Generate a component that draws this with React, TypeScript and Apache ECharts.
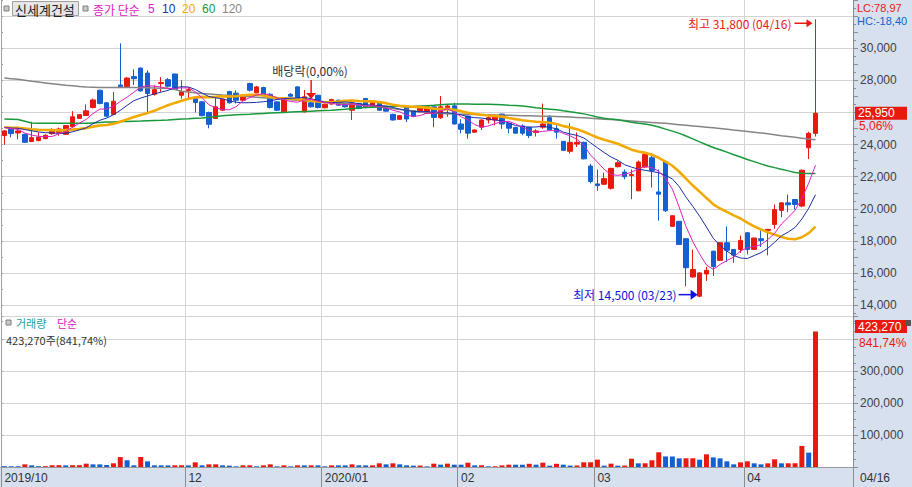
import React, { useEffect, useRef } from 'react';
import * as echarts from 'echarts';

// ---- trading sessions (2019/10/24 .. 2020/04/16) ----
const monthDays: [string, number[]][] = [
  ['2019/10', [24, 25, 28, 29, 30, 31]],
  ['2019/11', [1, 4, 5, 6, 7, 8, 11, 12, 13, 14, 15, 18, 19, 20, 21, 22, 25, 26, 27, 28, 29]],
  ['2019/12', [2, 3, 4, 5, 6, 9, 10, 11, 12, 13, 16, 17, 18, 19, 20, 23, 24, 26, 27, 30]],
  ['2020/01', [2, 3, 6, 7, 8, 9, 10, 13, 14, 15, 16, 17, 20, 21, 22, 23, 28, 29, 30, 31]],
  ['2020/02', [3, 4, 5, 6, 7, 10, 11, 12, 13, 14, 17, 18, 19, 20, 21, 24, 25, 26, 27, 28]],
  ['2020/03', [2, 3, 4, 5, 6, 9, 10, 11, 12, 13, 16, 17, 18, 19, 20, 23, 24, 25, 26, 27, 30, 31]],
  ['2020/04', [1, 2, 3, 6, 7, 8, 9, 10, 13, 14, 16]],
];
const axisMonths = ['2019/10', '2019/12', '2020/01', '2020/02', '2020/03', '2020/04'];
const monthLabels = ['2019/10', '12', '2020/01', '02', '03', '04'];
const emptySlots = ['e1', 'e2', 'e3', 'e4', 'e5'];

// ---- OHLC ----
const opens = [
  24560, 24970, 24720, 24640, 24190, 24250, 24370, 24680, 24760, 24640,
  25110, 25630, 25810, 26310, 27380, 26600, 25880, 27710, 27590, 28230,
  28760, 28450, 27130, 27800, 28040, 28390, 27070, 27360, 26870, 26660,
  26000, 25630, 26140, 27300, 27200, 26760, 27800, 27220, 27550, 27130,
  26660, 26040, 27130, 27590, 26040, 26600, 27070, 26290, 26520, 26760,
  26500, 26140, 26560, 26870, 26310, 26600, 26250, 25880, 25570, 26350,
  26100, 26040, 25940, 26350, 25670, 26300, 26410, 25280, 25775, 24770,
  25080, 25530, 25530, 25900, 25320, 25060, 25160, 25080, 24750, 25080,
  25670, 24980, 24200, 23580, 24030, 24140, 22660, 21550, 21530, 21280,
  22620, 22290, 22080, 21120, 22600, 23180, 21050, 22930, 18910, 19220,
  18140, 15760, 14560, 15940, 17360, 16790, 17890, 17470, 17470, 18510,
  17470, 18140, 18660, 19030, 19900, 20370, 20580, 20170, 23800, 24700,
];
const closes = [
  24850, 24680, 24850, 24140, 24430, 24450, 24580, 24930, 24970, 25180,
  25730, 25860, 26100, 26780, 26560, 25770, 26700, 27600, 28140, 28100,
  27340, 27180, 27420, 27860, 27630, 27440, 27300, 27420, 26620, 25800,
  25260, 26350, 26820, 26600, 26760, 27070, 27380, 27590, 27070, 26310,
  26140, 26870, 27010, 26870, 26970, 26350, 26310, 26500, 26800, 26450,
  26350, 26560, 26250, 26310, 26620, 26140, 26080, 25530, 25800, 25590,
  25750, 26350, 26350, 25690, 26350, 26400, 25280, 24950, 24710, 24910,
  25530, 25670, 25730, 25280, 25020, 24710, 24710, 24560, 24850, 25280,
  24910, 24770, 23640, 24140, 24140, 23110, 21700, 21450, 21880, 22520,
  22870, 22000, 22140, 22910, 23380, 22390, 20910, 19880, 19570, 17780,
  16330, 16220, 16010, 16170, 16400, 17890, 17420, 17120, 18030, 17470,
  18180, 18030, 18720, 19960, 20370, 20250, 20270, 22400, 24700, 25950,
];
const lows = [
  23980, 24450, 24330, 24100, 24150, 24200, 24330, 24600, 24550, 24600,
  25050, 25600, 25800, 26250, 26500, 25700, 25840, 27550, 27550, 27700,
  27300, 25980, 27050, 27280, 27550, 27400, 26860, 26800, 26000, 25750,
  25010, 25600, 26100, 26550, 26560, 26700, 27300, 27180, 27000, 26250,
  26100, 26000, 26950, 26800, 26000, 26300, 26250, 26250, 26480, 26400,
  26300, 25530, 26200, 26250, 26280, 26100, 26050, 25500, 25540, 25400,
  25700, 26000, 25900, 25080, 25600, 25730, 25250, 24700, 24360, 24740,
  24900, 25310, 25200, 24980, 24710, 24680, 24580, 24400, 24500, 24980,
  24880, 24360, 23600, 23440, 23850, 23080, 21580, 21120, 21500, 21200,
  22580, 21840, 20600, 21100, 22560, 21320, 19260, 19800, 18880, 17750,
  15180, 15700, 14500, 15500, 15820, 16760, 16690, 16640, 17250, 17160,
  17440, 17620, 17100, 18760, 19480, 19790, 19960, 20100, 23100, 24500,
];
const highs = [
  24900, 25000, 25110, 24680, 25420, 24760, 24640, 25010, 25050, 25200,
  26080, 25900, 26500, 26860, 27420, 26650, 27280, 30300, 28200, 28680,
  28800, 28620, 27690, 28200, 28140, 28420, 28000, 27580, 26900, 26700,
  26050, 26960, 26860, 27350, 27380, 27100, 27850, 27650, 27600, 27200,
  26700, 26900, 27200, 27650, 27400, 26650, 27100, 26550, 26850, 26800,
  26550, 26600, 26600, 26900, 26650, 26650, 26300, 25920, 25830, 26400,
  26150, 26400, 26400, 26400, 27025, 26450, 26600, 25570, 25800, 24950,
  25560, 25900, 25900, 25920, 25350, 25100, 25260, 25100, 24950, 26550,
  25830, 25230, 24220, 25320, 24750, 24180, 22800, 22450, 22250, 22550,
  23000, 22450, 22450, 23010, 23550, 23480, 22450, 22980, 19600, 19250,
  18180, 17460, 16050, 16380, 17400, 17920, 18910, 17500, 18340, 18550,
  18210, 18650, 18740, 20270, 20400, 20890, 20600, 22450, 24800, 31800,
];

// ---- volume (shares) ----
const volumes = [
  2600, 2300, 2100, 8300, 5200, 2500, 2700, 5500, 5600, 5200,
  5500, 5600, 10400, 8300, 8200, 6200, 11500, 31000, 21000, 5200,
  31300, 17700, 5200, 5100, 5000, 5300, 5400, 5000, 14600, 5200,
  8300, 8400, 5200, 4200, 2100, 5200, 5300, 2100, 5200, 8300,
  2100, 5200, 2100, 5200, 5100, 5200, 5100, 2100, 5200, 5100,
  5000, 8300, 5200, 5100, 5200, 11500, 8300, 11500, 8300, 5200,
  4200, 4500, 2000, 10400, 7300, 10500, 7300, 7200, 13500, 5200,
  5400, 2000, 2300, 5000, 7300, 7200, 7100, 10000, 7300, 13500,
  4200, 10000, 7300, 4500, 4700, 14600, 14800, 23000, 4200, 10400,
  4200, 4500, 26000, 11500, 11700, 21000, 46000, 33000, 32800, 27000,
  27200, 27300, 23000, 39600, 30000, 27000, 17700, 8300, 14600, 17700,
  11500, 8300, 11500, 24000, 11500, 11600, 11700, 66000, 44946, 423270,
];
const priorVolume = 3000;

// estimated closes of the 19 sessions before 2019/10/24 (warm-up of MA5/10/20)
const priorCloses = [
  25200, 24900, 25000, 25300, 25100, 24950, 25150, 25200, 24900, 25050,
  25100, 25000, 24950, 25150, 25200, 25000, 25100, 25300, 25050,
];
// MA60 as drawn before enough in-window sessions exist
const ma60Head = [
  25590, 25580, 25560, 25450, 25340, 25330, 25320, 25320, 25320, 25320,
  25320, 25320, 25320, 25350, 25380, 25400, 25410, 25430, 25440, 25450,
  25460, 25480, 25500, 25510, 25530, 25560, 25590, 25610, 25640, 25660,
  25700, 25740, 25790, 25830, 25850, 25870, 25890, 25920, 25940, 25960,
  25980, 26000, 26020, 26040, 26060, 26080, 26100, 26120, 26140, 26170,
  26200, 26240, 26280, 26310, 26330, 26340, 26360, 26380, 26390,
];
// MA120 as drawn
const ma120 = [
  28140, 28100, 28060, 28000, 27940, 27890, 27840, 27790, 27740, 27690,
  27660, 27620, 27590, 27570, 27550, 27550, 27550, 27550, 27550, 27550,
  27540, 27530, 27520, 27510, 27500, 27420, 27320, 27270, 27220, 27180,
  27150, 27120, 27090, 27070, 27030, 27000, 26970, 26940, 26910, 26880,
  26850, 26820, 26790, 26760, 26730, 26700, 26670, 26640, 26610, 26580,
  26550, 26510, 26470, 26430, 26390, 26340, 26290, 26240, 26190, 26140,
  26090, 26040, 25990, 25960, 25940, 25920, 25900, 25890, 25880, 25870,
  25860, 25850, 25840, 25830, 25820, 25810, 25800, 25790, 25780, 25770,
  25760, 25750, 25730, 25710, 25690, 25670, 25640, 25610, 25580, 25560,
  25530, 25500, 25470, 25440, 25410, 25380, 25350, 25320, 25280, 25240,
  25200, 25160, 25120, 25080, 25040, 25000, 24950, 24900, 24860, 24820,
  24770, 24720, 24670, 24610, 24550, 24500, 24450, 24400, 24350, 24300,
];

const exDividendDate = '2019/12/27';
const exDividendText = '배당락(0,00%)';
const lcText = 'LC:78,97';
const hcText = 'HC:-18,40';
const volRatioText = '841,74%';
const priceLabelValues = [14000, 16000, 18000, 20000, 22000, 24000, 26000, 28000, 30000];
const volumeLabelValues = [100000, 200000, 300000];

const RED = '#e8190e';
const BLUE = '#1560d0';
const PANEL = '#d6e0ef';
const KR = "'Noto Sans CJK KR', sans-serif";
const NUM = "'Liberation Sans', Arial, sans-serif";

const categories = monthDays.flatMap(([m, ds]) => ds.map((d) => `${m}/${String(d).padStart(2, '0')}`));
const axisCats = [...categories, ...emptySlots];
const monthStartIdx = axisMonths.map((m) => categories.findIndex((c) => c.startsWith(m)));
const labelByCat = new Map<string, string>(monthStartIdx.map((idx, k) => [categories[idx], monthLabels[k]]));
const tickIdx = new Set<number>(monthStartIdx);
const splitIdx = new Set<number>(monthStartIdx.slice(1));
const lastIdx = closes.length - 1;

const fmt = (v: number) => v.toLocaleString('en-US');

function sma(n: number): number[] {
  const all = [...priorCloses, ...closes];
  return closes.map((_, i) => {
    const end = i + priorCloses.length;
    let s = 0;
    for (let k = end - n + 1; k <= end; k++) s += all[k];
    return Math.round(s / n);
  });
}
function ma60Line(): number[] {
  return closes.map((_, i) => {
    if (i < ma60Head.length) return ma60Head[i];
    let s = 0;
    for (let k = i - 59; k <= i; k++) s += closes[k];
    return Math.round(s / 60);
  });
}

function buildOption(): any {
  const candle = opens.map((o, i) => [o, closes[i], lows[i], highs[i]]);
  const volData = volumes.map((v, i) => {
    const prev = i === 0 ? priorVolume : volumes[i - 1];
    return { value: v, itemStyle: { color: v >= prev ? RED : BLUE } };
  });
  const line = (data: number[], color: string, width: number) => ({
    type: 'line', xAxisIndex: 0, yAxisIndex: 0, data, symbol: 'none', silent: true, z: 3,
    lineStyle: { color, width }, emphasis: { disabled: true },
  });
  const gridLine = '#d4d4d4';
  const axisGray = '#8c8c8c';
  return {
    animation: false,
    backgroundColor: '#ffffff',
    grid: [
      { left: 1, right: 59, top: -3.75, height: 325, show: false },
      { left: 1, right: 59, top: 316, height: 151, show: false },
    ],
    xAxis: [
      {
        type: 'category', gridIndex: 0, data: axisCats, boundaryGap: true,
        axisLine: { show: false }, axisTick: { show: false }, axisLabel: { show: false },
        splitLine: { show: true, interval: (i: number) => splitIdx.has(i), lineStyle: { color: gridLine } },
      },
      {
        type: 'category', gridIndex: 1, data: axisCats, boundaryGap: true, position: 'bottom',
        axisLine: { show: true, lineStyle: { color: axisGray } },
        axisTick: { show: true, interval: (i: number) => tickIdx.has(i), length: 20, lineStyle: { color: axisGray } },
        axisLabel: {
          show: true, interval: (i: number) => tickIdx.has(i),
          formatter: (v: string) => labelByCat.get(v) ?? '',
          align: 'left', color: '#333333', fontFamily: NUM, fontSize: 12, margin: 5,
        },
        splitLine: { show: true, interval: (i: number) => splitIdx.has(i), lineStyle: { color: gridLine } },
      },
      {
        type: 'category', gridIndex: 1, data: axisCats, position: 'top',
        axisLine: { show: true, lineStyle: { color: '#9a9a9a' } },
        axisTick: { show: false }, axisLabel: { show: false }, splitLine: { show: false },
      },
    ],
    yAxis: [
      {
        type: 'value', gridIndex: 0, position: 'right', min: 13000, max: 33000, interval: 1000,
        axisLine: { show: true, lineStyle: { color: axisGray } },
        axisTick: { show: true, length: 5, lineStyle: { color: axisGray } },
        minorTick: { show: true, splitNumber: 2, length: 3, lineStyle: { color: axisGray } },
        axisLabel: {
          // a label hidden behind the last-price marker is not drawn
          formatter: (v: number) =>
            priceLabelValues.includes(v) && Math.abs(v - closes[lastIdx]) > 500 ? fmt(v) : '',
          color: '#404040', fontFamily: NUM, fontSize: 12, margin: 7,
        },
        splitLine: { show: true, lineStyle: { color: ['rgba(0,0,0,0)', gridLine] } },
      },
      {
        type: 'value', gridIndex: 0, position: 'left', min: 13000, max: 33000, interval: 1000,
        axisLine: { show: true, lineStyle: { color: '#a0a0a0' } },
        axisTick: { show: true, inside: true, length: 2, lineStyle: { color: '#a0a0a0' } },
        minorTick: { show: true, splitNumber: 2, length: 1, lineStyle: { color: '#a0a0a0' } },
        axisLabel: { show: false }, splitLine: { show: false },
      },
      {
        type: 'value', gridIndex: 1, position: 'right', min: 0, max: 471875, interval: 100000,
        axisLine: { show: true, lineStyle: { color: axisGray } },
        axisTick: { show: true, length: 5, lineStyle: { color: axisGray } },
        minorTick: { show: true, splitNumber: 4, length: 3, lineStyle: { color: axisGray } },
        axisLabel: {
          formatter: (v: number) => (volumeLabelValues.includes(v) ? fmt(v) : ''),
          color: '#404040', fontFamily: NUM, fontSize: 12, margin: 7,
        },
        splitLine: { show: true, lineStyle: { color: gridLine } },
      },
      {
        type: 'value', gridIndex: 1, position: 'left', min: 0, max: 471875, interval: 100000,
        axisLine: { show: true, lineStyle: { color: '#a0a0a0' } },
        axisTick: { show: true, inside: true, length: 2, lineStyle: { color: '#a0a0a0' } },
        axisLabel: { show: false }, splitLine: { show: false },
      },
    ],
    series: [
      {
        type: 'candlestick', xAxisIndex: 0, yAxisIndex: 0, data: candle, barWidth: 5, z: 2, silent: true,
        itemStyle: { color: RED, color0: BLUE, borderColor: RED, borderColor0: BLUE, borderWidth: 1 },
      },
      line(ma120, '#858585', 1.5),
      line(ma60Line(), '#17993a', 1.5),
      line(sma(20), '#f2a900', 2.6),
      line(sma(10), '#1a2fa8', 1),
      line(sma(5), '#e020c0', 1),
      {
        type: 'bar', xAxisIndex: 1, yAxisIndex: 2, data: volData, barWidth: 5, silent: true,
      },
    ],
  };
}

function buildGraphics(chart: any): any[] {
  const g: any[] = [];
  const text = (t: string, x: number, y: number, fill: string, font: string, align = 'left') => ({
    type: 'text', z: 100,
    style: { text: t, x, y, fill, font, lineHeight: 11, textAlign: align, align, textVerticalAlign: 'middle', verticalAlign: 'middle' },
  });
  // panels
  g.push({ type: 'rect', z: -1, shape: { x: 853, y: 0, width: 59, height: 487 }, style: { fill: PANEL } });
  g.push({ type: 'rect', z: -1, shape: { x: 0, y: 468, width: 912, height: 19 }, style: { fill: PANEL } });
  g.push({ type: 'line', z: 5, shape: { x1: 853.5, y1: 467, x2: 853.5, y2: 487 }, style: { stroke: '#8c8c8c', lineWidth: 1 } });

  // top-left legend
  g.push({ type: 'rect', z: 100, shape: { x: 4, y: 6, width: 5, height: 5 }, style: { fill: '#c8c8c8', stroke: '#808080', lineWidth: 1 } });
  g.push({ type: 'rect', z: 100, shape: { x: 12.5, y: 1.5, width: 66, height: 14 }, style: { fill: '#e6e6e6', stroke: '#a0a0a0', lineWidth: 1 } });
  g.push(text('신세계건설', 15, 9, '#222222', `13px ${KR}`));
  g.push({ type: 'rect', z: 100, shape: { x: 83, y: 6, width: 5, height: 5 }, style: { fill: '#c8c8c8', stroke: '#808080', lineWidth: 1 } });
  g.push(text('종가 단순', 93, 9, '#e020c0', `12px ${KR}`));
  g.push(text('5', 148, 9, '#e020c0', `12px ${NUM}`));
  g.push(text('10', 162, 9, '#1a2fa8', `12px ${NUM}`));
  g.push(text('20', 182, 9, '#f2a900', `12px ${NUM}`));
  g.push(text('60', 202, 9, '#17993a', `12px ${NUM}`));
  g.push(text('120', 222, 9, '#858585', `12px ${NUM}`));

  // LC / HC
  g.push(text(lcText, 857, 7.5, RED, `11px ${NUM}`));
  g.push(text(hcText, 857, 21, BLUE, `11px ${NUM}`));

  // highest / lowest annotations
  let hi = 0, lo = 0;
  highs.forEach((h, i) => { if (h > highs[hi]) hi = i; });
  lows.forEach((l, i) => { if (l < lows[lo]) lo = i; });
  const ph = chart.convertToPixel({ seriesIndex: 0 }, [hi, highs[hi]]);
  const pl = chart.convertToPixel({ seriesIndex: 0 }, [lo, lows[lo]]);
  const md = (c: string) => c.slice(5);
  {
    const y = ph[1] + 4;
    g.push(text(`최고 ${fmt(highs[hi])} (${md(categories[hi])})`, ph[0] - 24, y, RED, `12px ${KR}`, 'right'));
    g.push({ type: 'line', z: 100, shape: { x1: ph[0] - 21, y1: y, x2: ph[0] - 8, y2: y }, style: { stroke: RED, lineWidth: 1.5 } });
    g.push({ type: 'polygon', z: 100, shape: { points: [[ph[0] - 9, y - 4], [ph[0] - 9, y + 4], [ph[0] - 3, y]] }, style: { fill: RED } });
  }
  {
    const y = pl[1] - 2.5;
    g.push(text(`최저 ${fmt(lows[lo])} (${md(categories[lo])})`, pl[0] - 23, y, '#1010e0', `12px ${KR}`, 'right'));
    g.push({ type: 'line', z: 100, shape: { x1: pl[0] - 21, y1: y, x2: pl[0] - 8, y2: y }, style: { stroke: '#1010e0', lineWidth: 1.5 } });
    g.push({ type: 'polygon', z: 100, shape: { points: [[pl[0] - 9, y - 5], [pl[0] - 9, y + 5], [pl[0] - 2, y]] }, style: { fill: '#1010e0' } });
  }
  // ex-dividend
  {
    const di = categories.indexOf(exDividendDate);
    const p = chart.convertToPixel({ seriesIndex: 0 }, [di, highs[di]]);
    g.push(text(exDividendText, p[0] - 1, p[1] - 31, '#333333', `12px ${KR}`, 'center'));
    g.push({ type: 'line', z: 100, shape: { x1: p[0], y1: p[1] - 22, x2: p[0], y2: p[1] - 8 }, style: { stroke: RED, lineWidth: 1.5 } });
    g.push({ type: 'polygon', z: 100, shape: { points: [[p[0] - 5, p[1] - 9], [p[0] + 5, p[1] - 9], [p[0], p[1] - 3]] }, style: { fill: RED } });
  }

  // last price marker
  const pc = chart.convertToPixel({ seriesIndex: 0 }, [lastIdx, closes[lastIdx]]);
  const chg = ((closes[lastIdx] / closes[lastIdx - 1] - 1) * 100).toFixed(2).replace('.', ',');
  g.push({ type: 'rect', z: 100, shape: { x: 855, y: pc[1] - 6.5, width: 52, height: 13 }, style: { fill: RED } });
  g.push(text(fmt(closes[lastIdx]), 858, pc[1], '#ffffff', `12px ${NUM}`));
  g.push(text(`${chg}%`, 859, pc[1] + 13, RED, `12px ${NUM}`));

  // volume legend + marker
  g.push({ type: 'rect', z: 100, shape: { x: 6, y: 320, width: 5, height: 5 }, style: { fill: '#c8c8c8', stroke: '#808080', lineWidth: 1 } });
  g.push(text('거래량', 16, 323, '#20a0a0', `11px ${KR}`));
  g.push(text('단순', 57, 323, '#e020c0', `11px ${KR}`));
  g.push(text(`${fmt(volumes[lastIdx])}주(${volRatioText})`, 6, 340, '#333333', `11px ${KR}`));
  const pv = chart.convertToPixel({ seriesIndex: 6 }, [lastIdx, volumes[lastIdx]]);
  g.push({ type: 'rect', z: 100, shape: { x: 855, y: pv[1] - 11.5, width: 52, height: 13 }, style: { fill: RED } });
  g.push(text(fmt(volumes[lastIdx]), 858, pv[1] - 5, '#ffffff', `12px ${NUM}`));
  g.push(text(volRatioText, 859, pv[1] + 11.5, RED, `12px ${NUM}`));
  g.push({ type: 'rect', z: 100, shape: { x: 906, y: 320, width: 5, height: 6 }, style: { fill: '#555555' } });

  // date of last session in the right strip
  g.push(text(md(categories[lastIdx]), 860, 478, '#333333', `12px ${NUM}`));
  return g;
}

export default function App() {
  const ref = useRef<HTMLDivElement>(null);
  useEffect(() => {
    const chart = echarts.init(ref.current!, null, { renderer: 'svg' });
    chart.setOption(buildOption());
    chart.setOption({ graphic: { elements: buildGraphics(chart) } });
    return () => chart.dispose();
  }, []);
  return <div ref={ref} style={{ position: 'absolute', left: 0, top: 0, width: 912, height: 487 }} />;
}
